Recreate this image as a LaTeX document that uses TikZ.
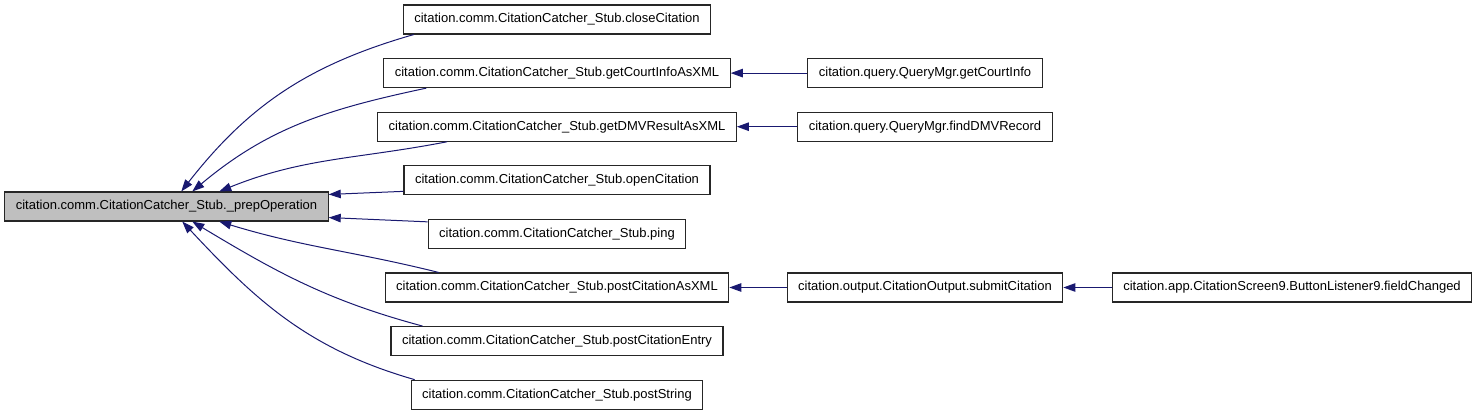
\documentclass[tikz,border=0pt]{standalone}
\usepackage{fontspec}
\setmainfont{Liberation Sans}
\usetikzlibrary{arrows.meta}
\definecolor{edgeblue}{RGB}{25,25,112}
\definecolor{rootgray}{RGB}{191,191,191}

\begin{document}
\begin{tikzpicture}[x=1pt, y=1pt,
        fn/.style={draw=black!85, rectangle, minimum height=29pt, inner xsep=11pt, inner ysep=0pt, line width=1.1pt, fill=white, font=\fontsize{13}{15}\selectfont},
        call/.style={-{Triangle[length=12pt,width=8.5pt]}, draw=edgeblue, line width=1pt}
    ]
        \useasboundingbox (0,0) rectangle (1477,413);

        \node[fn, fill=rootgray] (prep) at (166.5,206.5) {citation.comm.CitationCatcher\_Stub.\_prepOperation};

        \node[fn] (close) at (557,393.5) {citation.comm.CitationCatcher\_Stub.closeCitation};
        \node[fn] (courtxml) at (557,339.9) {citation.comm.CitationCatcher\_Stub.getCourtInfoAsXML};
        \node[fn] (dmvxml) at (557,286.3) {citation.comm.CitationCatcher\_Stub.getDMVResultAsXML};
        \node[fn] (open) at (557,232.7) {citation.comm.CitationCatcher\_Stub.openCitation};
        \node[fn] (ping) at (557,179.1) {citation.comm.CitationCatcher\_Stub.ping};
        \node[fn] (postxml) at (557,125.5) {citation.comm.CitationCatcher\_Stub.postCitationAsXML};
        \node[fn] (postentry) at (557,71.9) {citation.comm.CitationCatcher\_Stub.postCitationEntry};
        \node[fn] (poststr) at (557,18.3) {citation.comm.CitationCatcher\_Stub.postString};

        \node[fn] (courtinfo) at (925,339.9) {citation.query.QueryMgr.getCourtInfo};
        \node[fn] (finddmv) at (925,286.3) {citation.query.QueryMgr.findDMVRecord};
        \node[fn] (submit) at (925,125.5) {citation.output.CitationOutput.submitCitation};

        \node[fn] (fieldchg) at (1292,125.5) {citation.app.CitationScreen9.ButtonListener9.fieldChanged};

        % callers of _prepOperation
        \draw[call] ([xshift=11pt]close.south west) to[out=196, in=52] ([xshift=177pt]prep.north west);
        \draw[call] ([xshift=43pt]courtxml.south west) to[out=192, in=40] ([xshift=188pt]prep.north west);
        \draw[call] ([xshift=70pt]dmvxml.south west) to[out=191, in=22] ([xshift=215pt]prep.north west);
        \draw[call] ([yshift=4pt]open.south west) -- ([yshift=-3pt]prep.north east);
        \draw[call] ([yshift=-3pt]ping.north west) -- ([yshift=4pt]prep.south east);
        \draw[call] ([xshift=54pt]postxml.north west) to[out=166, in=-17] ([xshift=215pt]prep.south west);
        \draw[call] ([xshift=32pt]postentry.north west) to[out=165, in=-31] ([xshift=188pt]prep.south west);
        \draw[call] ([xshift=4pt]poststr.north west) to[out=164, in=-47] ([xshift=178pt]prep.south west);

        % second level
        \draw[call] (courtinfo) -- (courtxml);
        \draw[call] (finddmv) -- (dmvxml);
        \draw[call] (submit) -- (postxml);
        \draw[call] (fieldchg) -- (submit);
    \end{tikzpicture}
\end{document}
